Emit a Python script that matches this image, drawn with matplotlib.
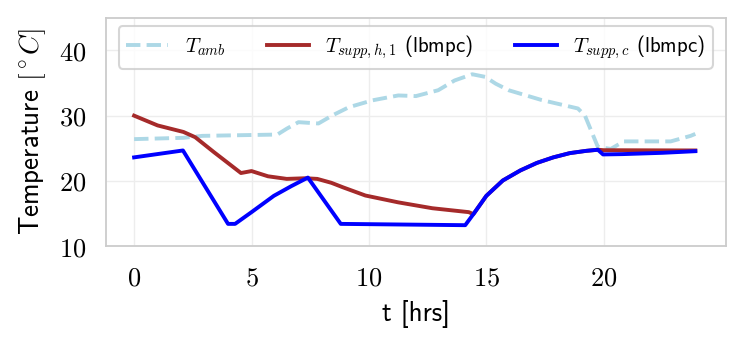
import numpy as np
import matplotlib
matplotlib.use("Agg")
import matplotlib.pyplot as plt

# ---- data ----
t_amb = [0, 2.1, 2.9, 6.1, 6.5, 7.0, 7.85, 8.45, 9.15, 10.15, 11.25, 12.0, 12.95, 13.65, 14.4, 14.95,
         15.4, 15.95, 17.35, 18.9, 19.2, 19.75, 20.3, 20.85, 22.85, 23.7, 23.9]
v_amb = [26.4, 26.6, 26.9, 27.1, 28.0, 29.0, 28.8, 30.05, 31.3, 32.35, 33.1, 33.0, 33.9, 35.4, 36.35, 35.95,
         34.9, 33.9, 32.4, 31.1, 30.0, 25.2, 24.9, 26.05, 26.05, 26.9, 27.2]

t_h = [0, 1.0, 2.1, 2.6, 3.4, 4.55, 5.0, 5.7, 6.5, 7.3, 7.8, 8.4, 8.9, 9.85, 11.25, 12.7, 13.6, 14.25,
       14.45, 15.0, 15.7, 16.45, 17.15, 17.85, 18.55, 19.25, 19.75, 20.0, 22.0, 23.9]
v_h = [30.0, 28.5, 27.5, 26.7, 24.4, 21.2, 21.5, 20.7, 20.3, 20.4, 20.3, 19.7, 19.0, 17.75, 16.7, 15.8, 15.45, 15.2,
       14.9, 17.7, 20.05, 21.6, 22.75, 23.6, 24.25, 24.6, 24.77, 24.7, 24.68, 24.66]

t_c = [0, 2.08, 4.0, 4.3, 5.0, 5.95, 6.7, 7.4, 8.8, 14.1, 14.45, 15.0, 15.7, 16.45, 17.15, 17.85,
       18.55, 19.25, 19.75, 19.97, 20.8, 22.5, 23.9]
v_c = [23.6, 24.66, 13.4, 13.4, 15.2, 17.7, 19.2, 20.5, 13.4, 13.2, 14.9, 17.7, 20.05, 21.6, 22.75, 23.6,
       24.25, 24.6, 24.77, 24.05, 24.1, 24.3, 24.55]

x_ticks = [0, 5, 10, 15, 20]
y_ticks = [10, 20, 30, 40]

plt.rcParams['mathtext.fontset'] = 'cm'
sans = 'cmss10'

fig = plt.figure(figsize=(7.46, 3.5), dpi=100)
ax = fig.add_axes([0.142, 0.297, 0.831, 0.652])

lw = 2.8
ax.plot(t_amb, v_amb, color='lightblue', lw=lw, ls='--', label=r'$T_{amb}$')
ax.plot(t_h, v_h, color='brown', lw=lw, label=r'$T_{supp,h,1}$ (lbmpc)')
ax.plot(t_c, v_c, color='blue', lw=lw, label=r'$T_{supp,c}$ (lbmpc)')

ax.set_xlim(-1.2, 25.2)
ax.set_ylim(10, 45)
ax.set_xticks(x_ticks)
ax.set_xticklabels([f'${v}$' for v in x_ticks])
ax.set_yticks(y_ticks)
ax.set_yticklabels([f'${v}$' for v in y_ticks])
ax.tick_params(axis='both', length=0, labelsize=19, pad=14)

ax.grid(True, color='0.93', lw=1.0)
ax.set_axisbelow(True)
for s in ax.spines.values():
    s.set_color('0.8')
    s.set_linewidth(1.3)

ax.set_xlabel(r't [hrs]', fontsize=19.5, family=sans, labelpad=6)
ax.set_ylabel(r'Temperature $[^\circ C]$', fontsize=19.5, family=sans, labelpad=8)

leg = ax.legend(loc='upper center', ncol=3, prop={'family': sans, 'size': 15},
                frameon=True, fancybox=True, edgecolor='0.8', handlelength=2.0,
                columnspacing=2.0, borderaxespad=0.4, borderpad=0.35)
leg.get_frame().set_linewidth(1.5)

fig.savefig('out.png', dpi=100)
